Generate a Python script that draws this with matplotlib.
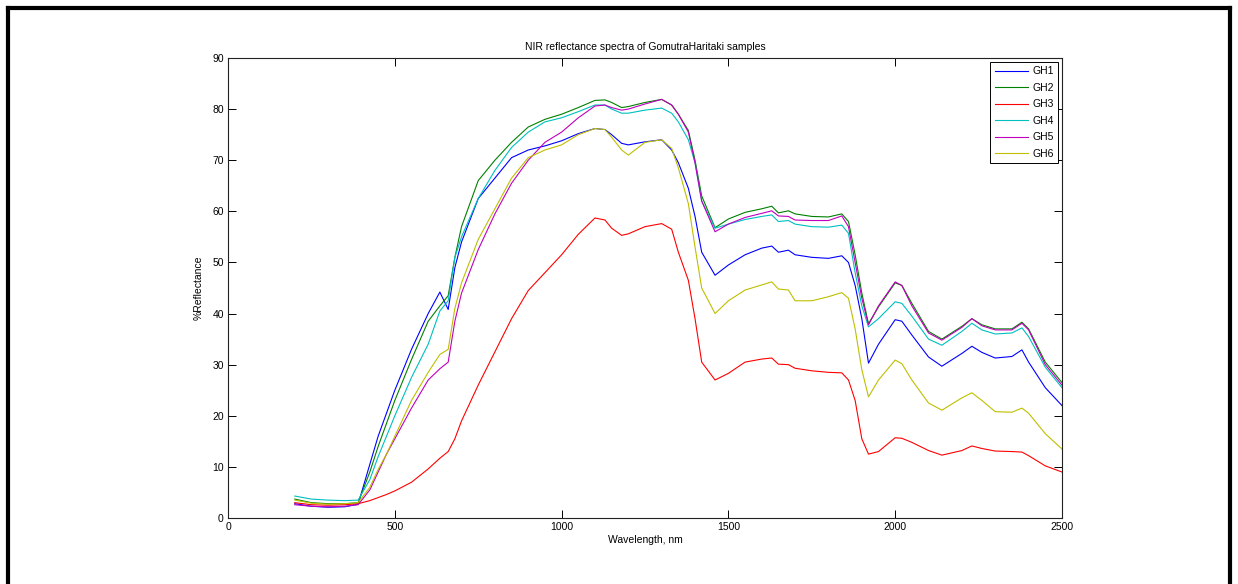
import matplotlib.pyplot as plt
from matplotlib.lines import Line2D

plt.rcParams['font.family'] = ['Liberation Sans', 'DejaVu Sans']

# wavelength grid (nm)
wl = [200, 250, 300, 350, 390, 425, 450, 475, 500, 550,
      600, 635, 660, 680, 700, 750, 800, 850, 900, 950,
      1000, 1050, 1100, 1130, 1150, 1180, 1200, 1250, 1300, 1330,
      1350, 1380, 1400, 1420, 1460, 1500, 1550, 1600, 1630, 1650,
      1680, 1700, 1750, 1800, 1840, 1860, 1880, 1900, 1920, 1950,
      2000, 2020, 2050, 2100, 2140, 2200, 2230, 2260, 2300, 2350,
      2380, 2400, 2450, 2500]

gh1 = [2.8, 2.3, 2.1, 2.2, 2.7, 10.5, 16, 20.5, 25, 33,
       40, 44.2, 40.8, 49, 54, 62.5, 66.5, 70.5, 72, 72.8,
       73.8, 75.2, 76.2, 76, 75, 73.3, 73, 73.6, 74, 72,
       69.5, 64.5, 59, 52, 47.5, 49.5, 51.5, 52.8, 53.2, 52,
       52.4, 51.5, 51, 50.8, 51.3, 50, 45.5, 39, 30.3, 34,
       38.8, 38.5, 35.8, 31.5, 29.7, 32.2, 33.6, 32.4, 31.3, 31.6,
       32.9, 30.5, 25.5, 22]

gh2 = [3.7, 3.0, 2.8, 2.8, 3.0, 9, 14, 18.5, 23, 31,
       38.5, 41.5, 43.5, 51, 57, 66, 70, 73.5, 76.5, 78,
       79, 80.3, 81.7, 81.8, 81.3, 80.3, 80.5, 81.3, 81.9, 80.8,
       79, 75.8, 70, 63, 56.8, 58.5, 59.8, 60.5, 61, 59.7,
       60.1, 59.5, 59, 58.9, 59.5, 58, 51.5, 44, 38, 41.3,
       46, 45.5, 42, 36.5, 35, 37.5, 39, 37.8, 37, 37,
       38.3, 37, 30.5, 26.5]

gh3 = [3.0, 2.6, 2.5, 2.6, 2.8, 3.4, 4, 4.6, 5.3, 7,
       9.6, 11.7, 13, 15.5, 19, 26, 32.5, 39, 44.5, 48,
       51.5, 55.5, 58.7, 58.3, 56.7, 55.3, 55.6, 57, 57.6, 56.5,
       52, 46.5, 39, 30.5, 27, 28.3, 30.5, 31.1, 31.3, 30.1,
       30, 29.3, 28.8, 28.5, 28.4, 27, 23, 15.5, 12.5, 13,
       15.7, 15.6, 14.8, 13.2, 12.3, 13.2, 14.1, 13.6, 13.1, 13,
       12.9, 12.2, 10.2, 9]

gh4 = [4.3, 3.7, 3.5, 3.4, 3.5, 7.5, 12, 16, 20, 27.5,
       34, 40.5, 42.5, 51, 55, 62.5, 68, 72.5, 75.5, 77.5,
       78.3, 79.5, 80.8, 80.8, 80, 79.2, 79.2, 79.8, 80.2, 79.2,
       77.5, 74, 69.5, 62, 56.7, 57.5, 58.4, 59, 59.3, 58,
       58.2, 57.5, 57, 56.9, 57.3, 55.7, 48, 41.5, 37.4, 39,
       42.3, 42, 39.5, 35, 33.8, 36.5, 38.1, 36.8, 36, 36.2,
       37.2, 35.5, 29.5, 25.5]

gh5 = [2.6, 2.3, 2.2, 2.3, 2.6, 5.5, 9, 12.5, 15.5, 21.5,
       27, 29.2, 30.5, 38.5, 44, 52.5, 59.5, 65.5, 70, 73.5,
       75.5, 78.3, 80.6, 80.8, 80.3, 79.8, 80, 81, 81.9, 80.8,
       79, 75.5, 69.5, 62, 56, 57.5, 58.8, 59.6, 60.1, 59.1,
       59, 58.3, 58.2, 58.2, 59.1, 57, 50, 43, 37.8, 41.5,
       46.2, 45.5, 41.5, 36.2, 34.8, 37.3, 39, 37.6, 36.8, 36.8,
       38.1, 36.8, 30, 26]

gh6 = [3.5, 2.9, 2.7, 2.8, 3.0, 6, 9.5, 12.5, 16, 23,
       28.5, 32, 33, 41, 46, 54.5, 60.5, 66.5, 70.5, 72,
       73, 75, 76.2, 76, 74.5, 72, 71, 73.5, 74, 72.3,
       68.5, 61.5, 53, 45, 40, 42.5, 44.6, 45.6, 46.2, 44.8,
       44.6, 42.5, 42.5, 43.3, 44.1, 43, 37, 29, 23.7, 27,
       30.9, 30.2, 27, 22.5, 21.1, 23.5, 24.5, 23, 20.8, 20.7,
       21.5, 20.5, 16.5, 13.5]

labels = ['GH1', 'GH2', 'GH3', 'GH4', 'GH5', 'GH6']
colors = ['#0000ff', '#008000', '#ff0000', '#00bfbf', '#bf00bf', '#bfbf00']

fig = plt.figure(figsize=(12.38, 5.84), dpi=100)
ax = fig.add_axes([0.1842, 0.1130, 0.6736, 0.7877])

for y, lab, c in zip([gh1, gh2, gh3, gh4, gh5, gh6], labels, colors):
    ax.plot(wl, y, color=c, lw=0.8, label=lab)

ax.set_xlim(0, 2500)
ax.set_ylim(0, 90)
ax.set_xticks(range(0, 2501, 500))
ax.set_yticks(range(0, 91, 10))
ax.tick_params(direction='in', length=5.5, width=0.7, labelsize=7.5,
               top=True, right=True, pad=3)
for s in ax.spines.values():
    s.set_linewidth(0.8)
    s.set_color('#222222')

ax.set_title('NIR reflectance spectra of GomutraHaritaki samples', fontsize=7.5, pad=6)
ax.set_xlabel('Wavelength, nm', fontsize=7.5, labelpad=2)
ax.set_ylabel('%Reflectance', fontsize=7.5, labelpad=6)

leg = ax.legend(loc='upper right', fontsize=7.5, handlelength=3.2, handletextpad=0.4,
                labelspacing=0.62, borderaxespad=0.4, fancybox=False, framealpha=1,
                borderpad=0.4)
leg.get_frame().set_edgecolor('black')
leg.get_frame().set_linewidth(0.7)

# outer page frame
lw = 3
fx = 7.5 / 1238
fy = 1 - 7.5 / 584
rx = 1229.5 / 1238
fig.add_artist(Line2D([fx, fx], [0, fy], color='black', lw=lw, transform=fig.transFigure))
fig.add_artist(Line2D([fx, rx], [fy, fy], color='black', lw=lw, transform=fig.transFigure))
fig.add_artist(Line2D([rx, rx], [0, fy], color='black', lw=lw, transform=fig.transFigure))

fig.savefig('out.png', dpi=100)
